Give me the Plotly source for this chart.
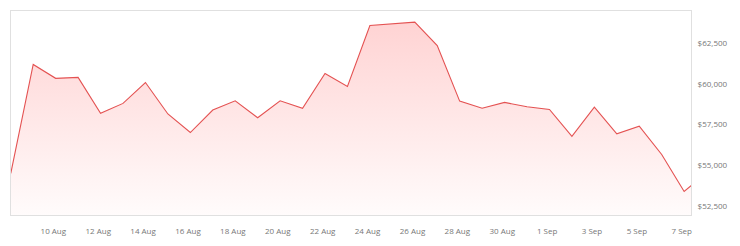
import pandas as pd
import plotly.graph_objects as go

# Daily prices (USD)
dates = pd.date_range("2024-08-08 02:30", periods=32, freq="D")
prices = [54490, 61180, 60330, 60390, 58180, 58790, 60070, 58140,
          57000, 58380, 58950, 57910, 58950, 58490, 60630, 59830,
          63570, 63660, 63780, 62340, 58930, 58490, 58850, 58580,
          58420, 56760, 58560, 56920, 57390, 55650, 53380, 54520]

tick_dates = ["2024-08-10", "2024-08-12", "2024-08-14", "2024-08-16", "2024-08-18",
              "2024-08-20", "2024-08-22", "2024-08-24", "2024-08-26", "2024-08-28",
              "2024-08-30", "2024-09-01", "2024-09-03", "2024-09-05", "2024-09-07"]
tick_labels = ["10 Aug", "12 Aug", "14 Aug", "16 Aug", "18 Aug", "20 Aug", "22 Aug",
               "24 Aug", "26 Aug", "28 Aug", "30 Aug", "1 Sep", "3 Sep", "5 Sep", "7 Sep"]
y_ticks = [52500, 55000, 57500, 60000, 62500]
y_labels = ["$52,500", "$55,000", "$57,500", "$60,000", "$62,500"]

y_min, y_max = 51934, 64465

fig = go.Figure(go.Scatter(
    x=dates, y=prices, mode="lines",
    line=dict(color="#e45252", width=1.1),
    fill="tozeroy",
    fillgradient=dict(type="vertical", start=y_min, stop=y_max,
                      colorscale=[[0, "rgba(255,90,90,0.02)"], [1, "rgba(255,90,90,0.28)"]]),
    hoverinfo="skip",
))

fig.update_layout(
    width=740, height=246,
    margin=dict(l=10, r=49, t=10, b=30),
    paper_bgcolor="white", plot_bgcolor="white",
    showlegend=False,
    font=dict(family="Open Sans", size=8, color="#777777"),
)
fig.update_xaxes(
    range=["2024-08-08 02:45", "2024-09-07 09:50"],
    tickvals=tick_dates, ticktext=tick_labels,
    showgrid=False, zeroline=False,
    showline=True, linecolor="#e0e0e0", linewidth=1, mirror=True,
    ticks="", ticklabelstandoff=8,
)
fig.update_yaxes(
    range=[y_min, y_max], side="right",
    tickvals=y_ticks, ticktext=y_labels,
    showgrid=False, zeroline=False,
    showline=True, linecolor="#e0e0e0", linewidth=1, mirror=True,
    ticks="", ticklabelstandoff=4,
)

fig.write_html("out.html")
